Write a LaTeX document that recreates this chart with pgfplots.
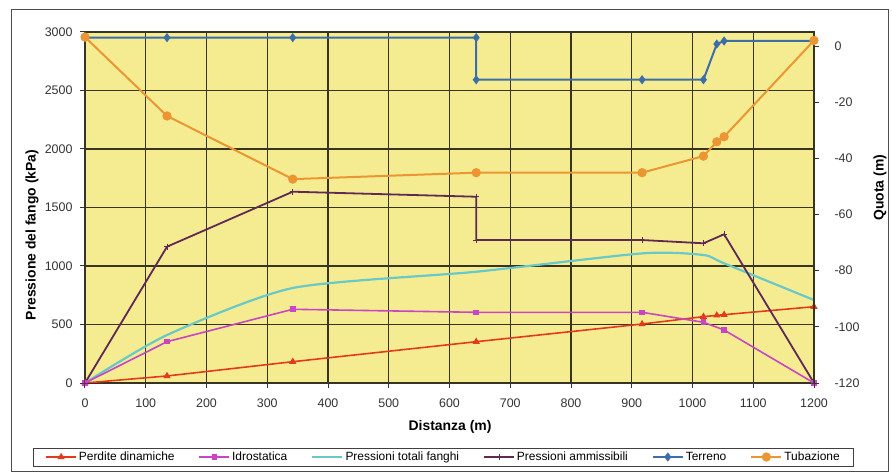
\documentclass[border=0pt]{standalone}
\usepackage{pgfplots}
\pgfplotsset{compat=1.18}
\usepackage{fontspec}
\setmainfont{Liberation Sans}
\definecolor{bgy}{RGB}{245,236,145}
\definecolor{gridc}{RGB}{55,53,33}
\definecolor{cperd}{RGB}{228,58,28}
\definecolor{cidro}{RGB}{200,70,195}
\definecolor{ctot}{RGB}{105,200,200}
\definecolor{camm}{RGB}{95,40,85}
\definecolor{cterr}{RGB}{60,110,170}
\definecolor{ctub}{RGB}{235,150,50}
\pgfplotsset{
  perd/.style={cperd, line width=1.6bp, mark=triangle*, mark size=2.6bp, mark options={solid}},
  idro/.style={cidro, line width=1.6bp, mark=square*, mark size=2bp, mark options={solid}},
  tot/.style={ctot, line width=2.2bp, mark=none},
  amm/.style={camm, line width=1.8bp, mark=+, mark size=3bp, mark options={solid, line width=1bp}},
  terr/.style={cterr, line width=2bp, mark=diamond*, mark size=3bp, mark options={solid}},
  tub/.style={ctub, line width=2bp, mark=*, mark size=3.6bp, mark options={solid}},
  common/.style={
    scale only axis, width=729bp, height=351bp, at={(0bp,0bp)}, anchor=south west,
    xmin=0, xmax=1200,
    tick align=outside, major tick length=5bp,
    tick style={gridc, line width=1bp},
    /pgf/number format/assume math mode=true,
    /pgf/number format/1000 sep={},
    tick label style={font=\fontsize{12.5}{13}\selectfont, text=black!80},
    label style={font=\bfseries\fontsize{14}{15}\selectfont},
  },
}
\begin{document}
\begin{tikzpicture}
\path[use as bounding box] (-85bp,-90bp) rectangle (807bp,383bp);
\draw[black!70, line width=0.8bp] (-74bp,-88bp) rectangle (803bp,374bp);
\begin{axis}[common,
  ymin=0, ymax=3000,
  xtick={0,100,...,1200}, ytick={0,500,...,3000},
  xtick pos=bottom, ytick pos=left,
  grid=major, major grid style={gridc, line width=1.4bp},
  axis line style={gridc, line width=1.4bp},
  axis background/.style={fill=bgy},
  xticklabel style={yshift=-7bp},
  yticklabel style={xshift=-4bp},
  xlabel={Distanza (m)},
  xlabel style={at={(axis description cs:0.5007,-0.125)}, anchor=center},
  ylabel={Pressione del fango (kPa)},
  ylabel style={at={(axis description cs:-0.0727,0.4217)}, anchor=center},
]
\addplot[tot, smooth, tension=0.4] coordinates {(0,0) (135,410) (342,812) (644,951) (917,1108) (1018,1094) (1052,1023) (1200,709)};
\addplot[perd] coordinates {(0,0) (135,60) (342,182) (644,353) (917,504) (1018,567) (1040,578) (1052,584) (1200,652)};
\addplot[idro] coordinates {(0,0) (135,353) (342,630) (644,604) (917,604) (1018,519) (1052,453) (1200,0)};
\addplot[amm] coordinates {(0,0) (135,1165) (342,1635) (644,1592) (644,1222) (917,1222) (1018,1194) (1052,1271) (1200,0)};
\end{axis}
\begin{axis}[common,
  ymin=-120, ymax=5,
  axis x line=none, axis y line*=right,
  ytick={-120,-100,...,0},
  axis line style={gridc, line width=1.4bp},
  yticklabel style={anchor=west, xshift=12bp},
  ylabel={Quota (m)},
  ylabel style={at={(axis description cs:1.0905,0.556)}, anchor=center, rotate=0},
  legend columns=6,
  legend style={at={(axis description cs:0.4918,-0.2108)}, anchor=center,
    draw=black!75, line width=0.8bp, fill=white,
    font=\fontsize{12}{13}\selectfont, inner ysep=2bp, inner xsep=12bp,
    /tikz/every even column/.append style={column sep=22bp}},
  legend image code/.code={\draw[mark repeat=2, mark phase=2, #1] plot coordinates {(0bp,0bp) (15bp,0bp) (30bp,0bp)};},
]
\addlegendimage{perd}\addlegendentry{Perdite dinamiche}
\addlegendimage{idro}\addlegendentry{Idrostatica}
\addlegendimage{tot}\addlegendentry{Pressioni totali fanghi}
\addlegendimage{amm}\addlegendentry{Pressioni ammissibili}
\addplot[terr] coordinates {(0,3) (135,3) (342,3) (644,3) (644,-12) (917,-12) (1018,-12) (1040,0.7) (1052,1.8) (1200,1.8)};
\addlegendentry{Terreno}
\addplot[tub] coordinates {(0,3.2) (135,-24.9) (342,-47.4) (644,-45.1) (917,-45.1) (1018,-39.2) (1040,-34.1) (1052,-32.3) (1200,2)};
\addlegendentry{Tubazione}
\end{axis}
\end{tikzpicture}
\end{document}
